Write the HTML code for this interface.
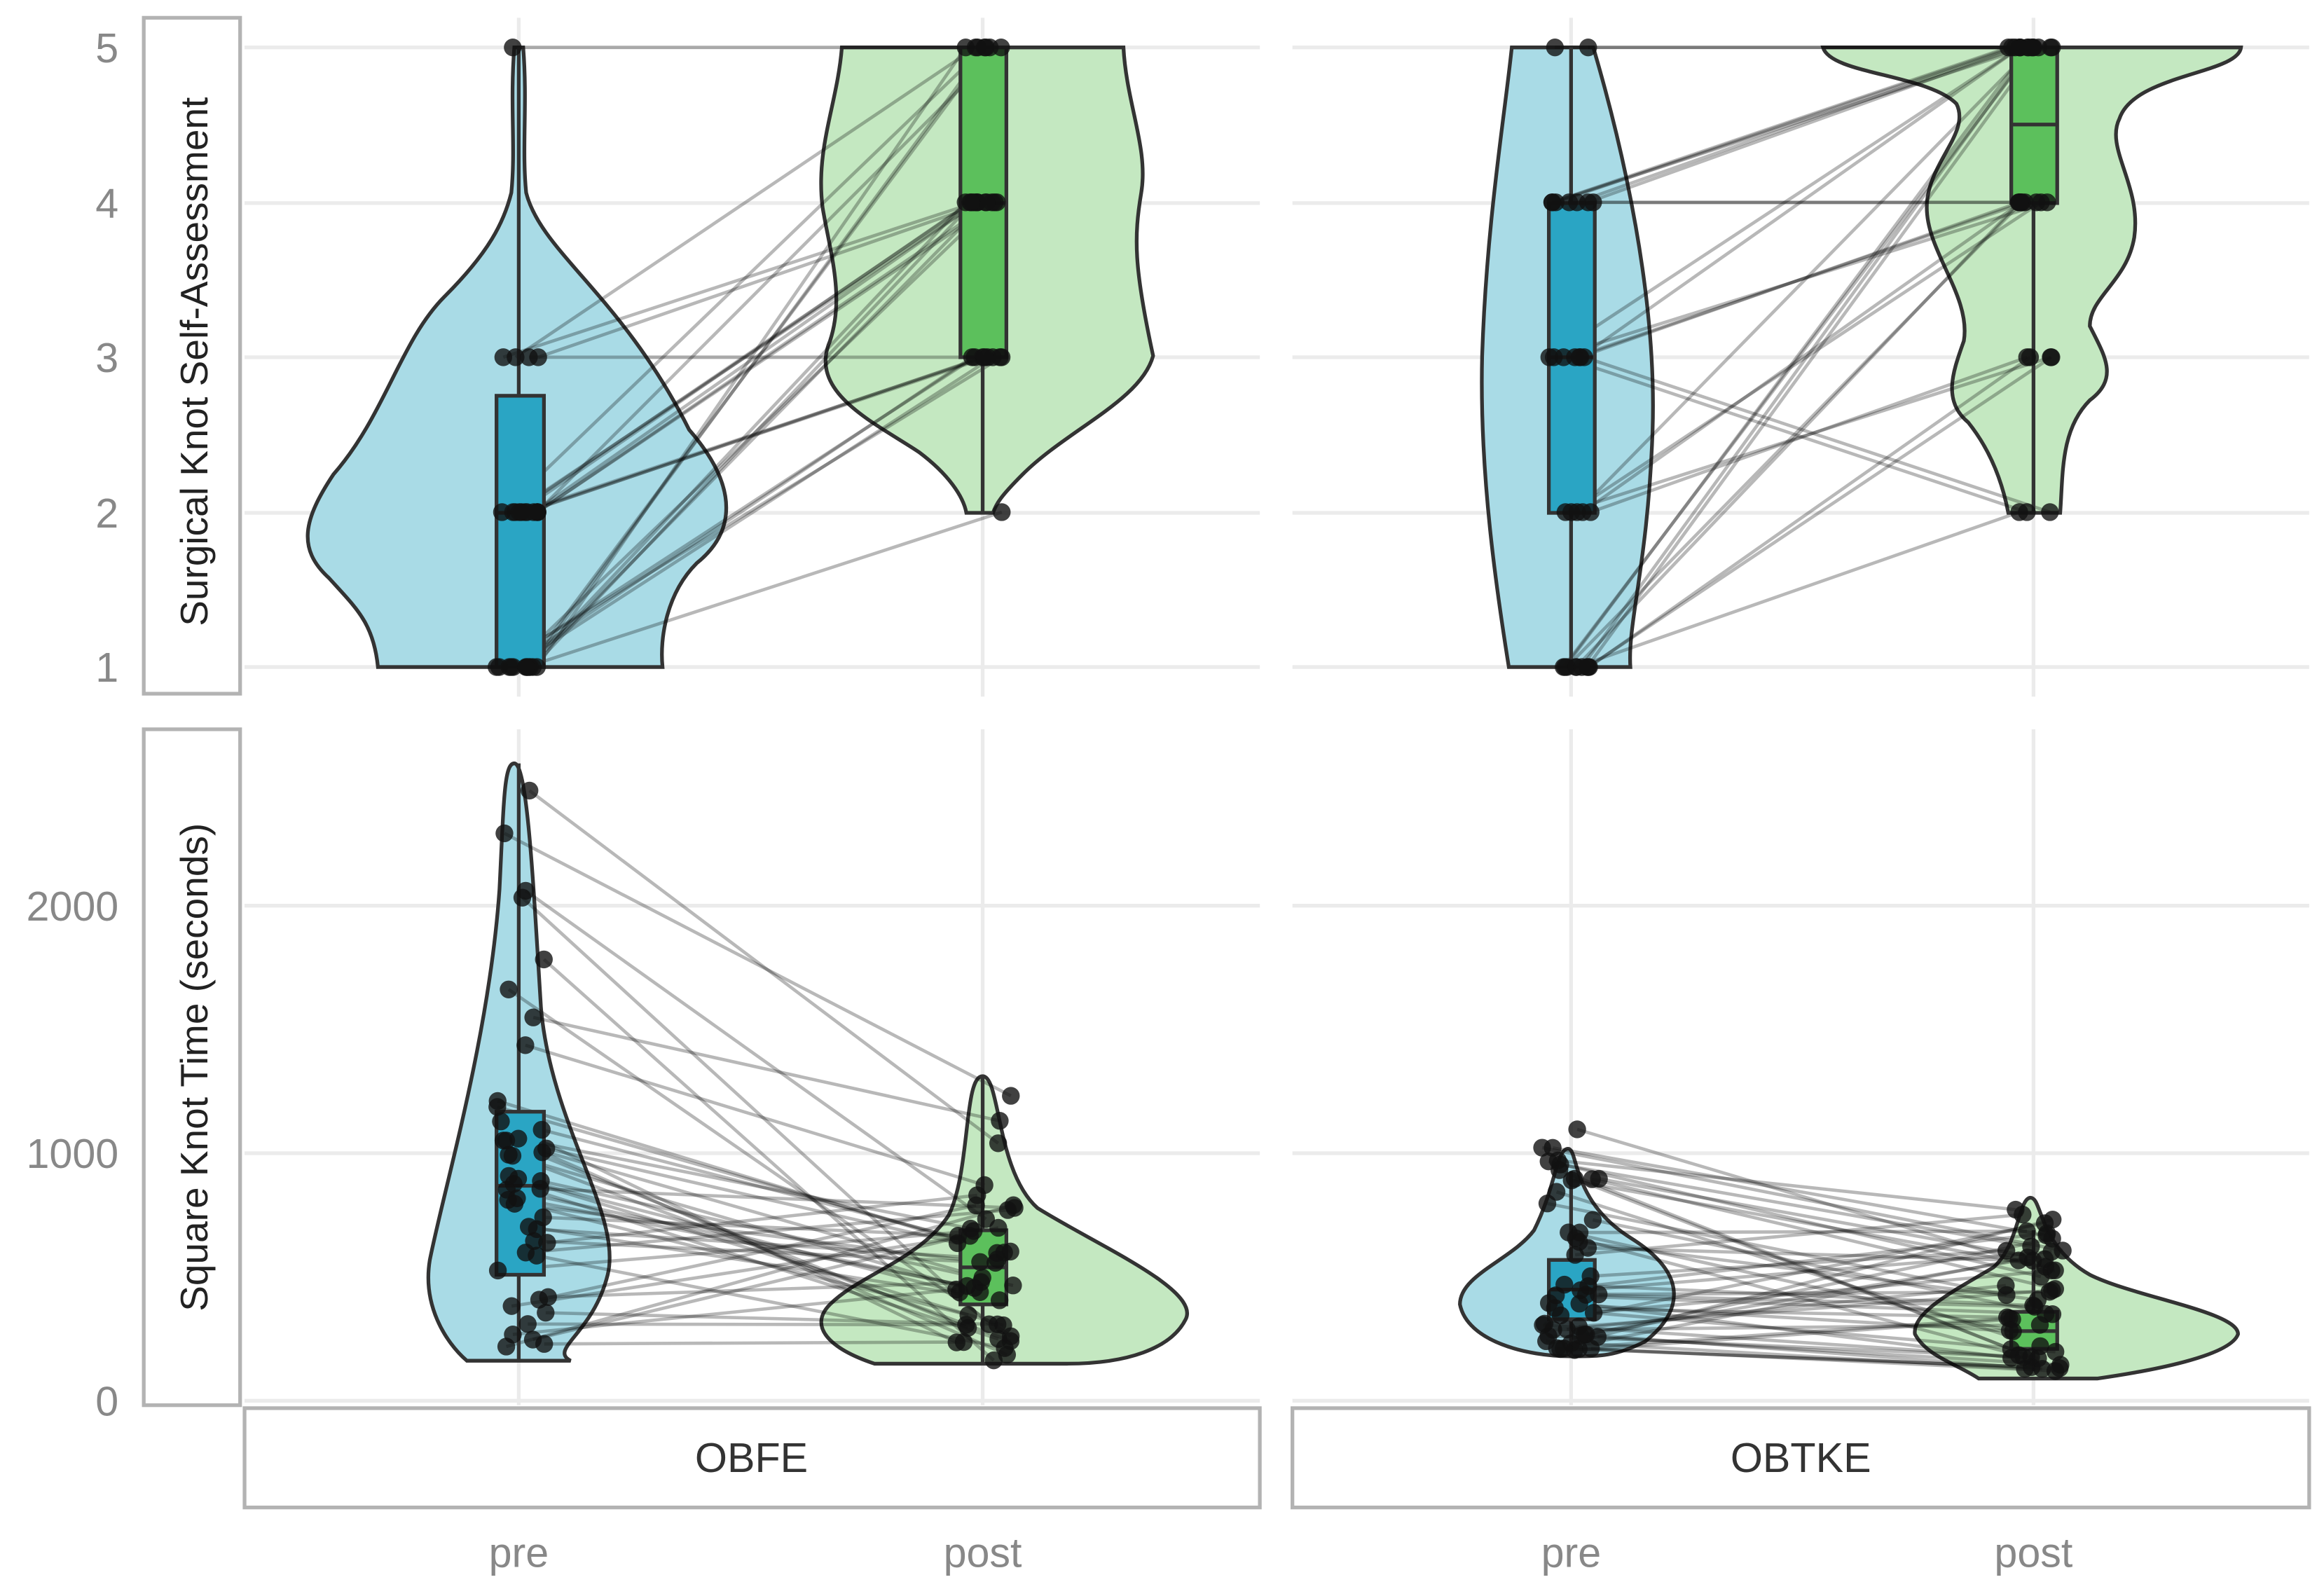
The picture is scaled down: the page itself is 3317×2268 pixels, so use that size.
<!DOCTYPE html>
<html><head><meta charset="utf-8"><style>
html,body{margin:0;padding:0;background:#fff;}
svg{display:block;}
text{font-family:"Liberation Sans",sans-serif;}
</style></head><body>
<svg id="s" width="3317" height="2268" viewBox="0 0 1568 1072" preserveAspectRatio="none" xmlns="http://www.w3.org/2000/svg">
<rect width="1568" height="1072" fill="#fff"/>
<g stroke="#ebebeb" stroke-width="2.5">
<line x1="165" x2="850" y1="32" y2="32"/><line x1="165" x2="850" y1="137" y2="137"/><line x1="165" x2="850" y1="241" y2="241"/><line x1="165" x2="850" y1="346" y2="346"/><line x1="165" x2="850" y1="450" y2="450"/>
<line x1="872" x2="1558" y1="32" y2="32"/><line x1="872" x2="1558" y1="137" y2="137"/><line x1="872" x2="1558" y1="241" y2="241"/><line x1="872" x2="1558" y1="346" y2="346"/><line x1="872" x2="1558" y1="450" y2="450"/>
<line x1="350" x2="350" y1="12" y2="470"/><line x1="663" x2="663" y1="12" y2="470"/><line x1="1060" x2="1060" y1="12" y2="470"/><line x1="1372" x2="1372" y1="12" y2="470"/>
<line x1="165" x2="850" y1="611" y2="611"/><line x1="165" x2="850" y1="778" y2="778"/><line x1="165" x2="850" y1="945" y2="945"/>
<line x1="872" x2="1558" y1="611" y2="611"/><line x1="872" x2="1558" y1="778" y2="778"/><line x1="872" x2="1558" y1="945" y2="945"/>
<line x1="350" x2="350" y1="492" y2="948"/><line x1="663" x2="663" y1="492" y2="948"/><line x1="1060" x2="1060" y1="492" y2="948"/><line x1="1372" x2="1372" y1="492" y2="948"/>
</g>
<g fill="#a9dbe6" stroke="#333" stroke-width="2.5">
<path d="M347,32 L353,32 C356,70 352,100 355,130 C365,170 420,200 465,290 C500,330 495,360 470,380 C450,400 445,430 447,450 L255,450 C252,420 240,410 222,390 C200,370 205,350 225,320 C260,280 270,230 300,200 C330,170 340,150 345,130 C348,100 344,70 347,32Z"/>
<path d="M1020,32 L1075,32 C1095,100 1118,200 1115,290 C1112,380 1098,420 1100,450 L1018,450 C1010,400 998,320 1000,240 C1003,150 1015,80 1020,32Z"/>
<path d="M347,515 C356,515 360,600 365,680 C372,760 420,820 410,860 C400,900 370,910 385,918 L315,918 C300,905 285,880 290,850 C300,800 330,700 337,600 C340,540 340,515 347,515Z"/>
<path d="M1058,775 C1065,775 1060,810 1100,835 C1140,860 1135,885 1110,905 C1090,915 1080,915 1060,915 C1030,915 990,905 985,880 C985,860 1020,850 1035,830 C1050,800 1050,775 1058,775Z"/>
</g>
<g fill="#c4e8c1" stroke="#333" stroke-width="2.5">
<path d="M568,32 L758,32 C760,70 775,100 770,130 C765,160 765,180 778,240 C770,270 720,290 690,320 C675,335 672,340 670,346 L652,346 C650,335 640,320 620,305 C590,285 545,265 560,230 C570,200 560,170 555,140 C550,100 565,70 568,32Z"/>
<path d="M1230,32 L1512,32 C1510,50 1440,50 1430,80 C1420,100 1445,125 1440,160 C1435,190 1410,200 1410,220 C1420,240 1430,255 1410,270 C1390,290 1392,320 1390,346 L1355,346 C1350,320 1340,300 1328,285 C1310,270 1318,250 1325,230 C1330,200 1300,170 1300,140 C1300,110 1330,90 1320,70 C1300,50 1235,50 1230,32Z"/>
<path d="M663,726 C675,726 672,790 700,815 C740,840 810,870 800,890 C790,910 760,920 720,920 L590,920 C560,910 545,895 560,880 C580,860 620,850 640,820 C655,790 650,726 663,726Z"/>
<path d="M1370,808 C1378,808 1375,840 1410,860 C1440,875 1510,885 1510,900 C1505,915 1450,925 1415,930 L1335,930 C1320,920 1300,915 1292,900 C1290,885 1320,870 1345,855 C1362,840 1362,808 1370,808Z"/>
</g>
<g id="lines" stroke="#000" stroke-opacity="0.28" stroke-width="2.2"></g>
<g stroke="#333" stroke-width="2.5">
<line x1="350" x2="350" y1="32" y2="450"/><rect x="335" y="267" width="32" height="183" fill="#2aa5c4"/><line x1="335" x2="367" y1="346" y2="346"/>
<line x1="663" x2="663" y1="32" y2="346"/><rect x="648" y="32" width="31" height="209" fill="#5cc05c"/><line x1="648" x2="679" y1="137" y2="137"/>
<line x1="1060" x2="1060" y1="32" y2="450"/><rect x="1045" y="137" width="31" height="209" fill="#2aa5c4"/><line x1="1045" x2="1076" y1="241" y2="241"/>
<line x1="1372" x2="1372" y1="32" y2="346"/><rect x="1357" y="32" width="31" height="105" fill="#5cc05c"/><line x1="1357" x2="1388" y1="84" y2="84"/>
<line x1="350" x2="350" y1="515" y2="918"/><rect x="335" y="750" width="32" height="110" fill="#2aa5c4"/><line x1="335" x2="367" y1="800" y2="800"/>
<line x1="663" x2="663" y1="726" y2="920"/><rect x="648" y="830" width="31" height="50" fill="#5cc05c"/><line x1="648" x2="679" y1="855" y2="855"/>
<line x1="1060" x2="1060" y1="790" y2="915"/><rect x="1045" y="850" width="31" height="40" fill="#2aa5c4"/><line x1="1045" x2="1076" y1="870" y2="870"/>
<line x1="1372" x2="1372" y1="830" y2="925"/><rect x="1357" y="885" width="31" height="25" fill="#5cc05c"/><line x1="1357" x2="1388" y1="898" y2="898"/>
</g>
<g id="dots" fill="#111" fill-opacity="0.8"></g>
<g fill="none" stroke="#b3b3b3" stroke-width="2.5">
<rect x="97" y="12" width="65" height="456"/><rect x="97" y="492" width="65" height="456"/>
<rect x="165" y="950" width="685" height="67"/><rect x="872" y="950" width="686" height="67"/>
</g>
<g fill="#222" font-size="26" text-anchor="middle">
<text transform="translate(140,244) rotate(-90)">Surgical Knot Self-Assessment</text>
<text transform="translate(140,720) rotate(-90)">Square Knot Time (seconds)</text>
</g>
<g fill="#333" font-size="28" text-anchor="middle">
<text x="507" y="993">OBFE</text><text x="1215" y="993">OBTKE</text>
</g>
<g fill="#888" font-size="28" text-anchor="middle">
<text x="350" y="1057">pre</text><text x="663" y="1057">post</text><text x="1060" y="1057">pre</text><text x="1372" y="1057">post</text>
</g>
<g fill="#888" font-size="28" text-anchor="end">
<text x="80" y="42">5</text><text x="80" y="147">4</text><text x="80" y="251">3</text><text x="80" y="356">2</text><text x="80" y="460">1</text>
<text x="80" y="621">2000</text><text x="80" y="788">1000</text><text x="80" y="955">0</text>
</g>
</svg>
<script>
var seed=7;function r(){seed=(seed*16807)%2147483647;return seed/2147483647;}
var L=document.getElementById('lines'),D=document.getElementById('dots'),ns='http://www.w3.org/2000/svg';
function ln(a,b,c,d){var e=document.createElementNS(ns,'line');e.setAttribute('x1',a);e.setAttribute('y1',b);e.setAttribute('x2',c);e.setAttribute('y2',d);L.appendChild(e);}
function dt(x,y){var e=document.createElementNS(ns,'circle');e.setAttribute('cx',x);e.setAttribute('cy',y);e.setAttribute('r',6);D.appendChild(e);}
function Y(v){return 450-(v-1)*104.5;}
function T(s){return 945-s*0.167;}
var pre1=[1,1,1,1,1,1,1,1,1,2,2,2,2,2,2,2,2,3,3,3,3,1,2,2,1,5,1,2];
var post1=[3,3,4,4,5,5,4,3,4,3,4,5,4,3,5,4,4,4,5,4,3,3,3,4,5,5,2,4];
for(var i=0;i<pre1.length;i++){var a=335+r()*30,b=650+r()*28;ln(a,Y(pre1[i]),b,Y(post1[i]));dt(a,Y(pre1[i]));dt(b,Y(post1[i]));}
var pre2=[1,1,1,1,1,1,2,2,2,3,3,3,3,3,4,4,4,4,4,5,5,1,2,3,4,1,1,3,4,2];
var post2=[4,5,5,4,3,5,5,4,3,5,4,2,2,4,5,5,4,5,4,5,5,3,4,5,5,2,5,4,5,3];
for(var i=0;i<pre2.length;i++){var a=1045+r()*30,b=1355+r()*32;ln(a,Y(pre2[i]),b,Y(post2[i]));dt(a,Y(pre2[i]));dt(b,Y(post2[i]));}
for(var i=0;i<45;i++){var p=r()<0.25?1000+r()*1600:200+r()*900,q=160+r()*(p>1200?1100:700);var a=335+r()*35,b=645+r()*40;ln(a,T(p),b,T(q));dt(a,T(p));dt(b,T(q));}
for(var i=0;i<50;i++){var p=200+Math.pow(r(),1.5)*950,q=120+Math.pow(r(),1.6)*700;var a=1040+r()*40,b=1352+r()*40;ln(a,T(p),b,T(q));dt(a,T(p));dt(b,T(q));}
</script>
</body></html>
